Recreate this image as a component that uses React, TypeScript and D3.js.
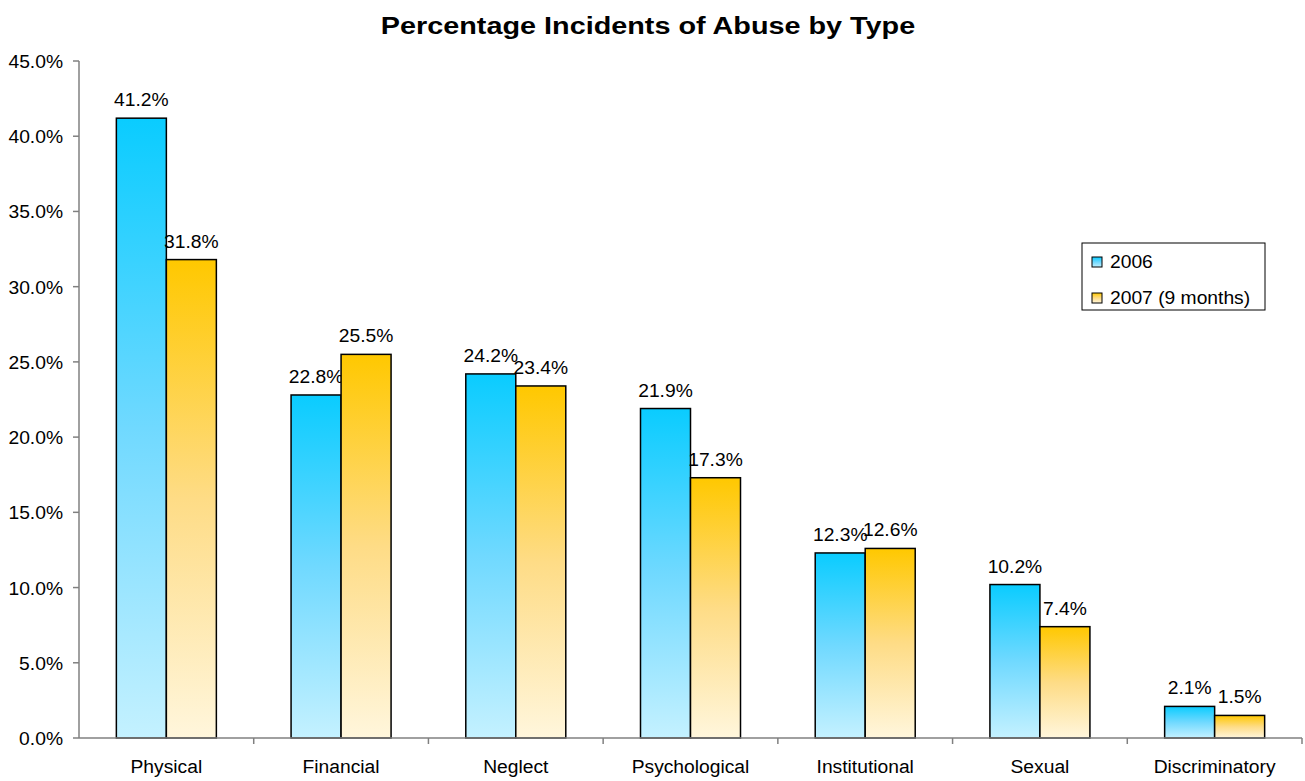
import React from "react";
import * as d3 from "d3";

const categories = ["Physical", "Financial", "Neglect", "Psychological", "Institutional", "Sexual", "Discriminatory"];
const values2006 = [41.2, 22.8, 24.2, 21.9, 12.3, 10.2, 2.1];
const values2007 = [31.8, 25.5, 23.4, 17.3, 12.6, 7.4, 1.5];
const seriesNames = ["2006", "2007 (9 months)"];
const yTicks = [0, 5, 10, 15, 20, 25, 30, 35, 40, 45];

const W = 1305, H = 781;
const left = 79, right = 1302, top = 61, bottom = 738;
const SX = 1.07;

function T({ x, y, anchor = "start", size = 18, sx = SX, bold = false, children }: any) {
  return (
    <text transform={`translate(${x},${y}) scale(${sx},1)`} textAnchor={anchor} fontSize={size} fontWeight={bold ? "bold" : "normal"} fill="#000">{children}</text>
  );
}

export default function App() {
  const x = d3.scaleBand<string>().domain(categories).range([left, right]).paddingInner(0).paddingOuter(0);
  const y = d3.scaleLinear().domain([0, 45]).range([bottom, top]);
  const bw = 50;
  const series = [values2006, values2007];
  const grads = ["gBlue", "gYellow"];
  const font = "Arial, 'Liberation Sans', sans-serif";
  return (
    <svg width={W} height={H} style={{ position: "absolute", left: 0, top: 0, background: "#fff" }} fontFamily={font}>
      <defs>
        <linearGradient id="gBlue" x1="0" y1="0" x2="0" y2="1">
          <stop offset="0" stopColor="#0ACCFF" />
          <stop offset="0.5" stopColor="#70D9FF" />
          <stop offset="1" stopColor="#C4F1FF" />
        </linearGradient>
        <linearGradient id="gYellow" x1="0" y1="0" x2="0" y2="1">
          <stop offset="0" stopColor="#FFC800" />
          <stop offset="0.5" stopColor="#FEDC86" />
          <stop offset="1" stopColor="#FFF6DC" />
        </linearGradient>
      </defs>
      <T x={648} y={34} anchor="middle" size={24} sx={1.2} bold>Percentage Incidents of Abuse by Type</T>
      {/* y axis */}
      <line x1={left} y1={top} x2={left} y2={bottom} stroke="#808080" strokeWidth={1.5} />
      {yTicks.map(t => (
        <g key={t}>
          <line x1={left - 6} x2={left} y1={y(t)} y2={y(t)} stroke="#808080" strokeWidth={1.5} />
          <T x={63} y={y(t) + 7} anchor="end">{t.toFixed(1)}%</T>
        </g>
      ))}
      {/* bars */}
      {categories.map((c, i) => {
        const cx = (x(c) as number) + x.bandwidth() / 2;
        return series.map((s, k) => {
          const bx = cx - bw + k * bw;
          return (
            <g key={c + k}>
              <rect x={bx} y={y(s[i])} width={bw} height={bottom - y(s[i])} fill={`url(#${grads[k]})`} stroke="#000" strokeWidth={1.5} />
              <T x={bx + bw / 2} y={y(s[i]) - 12} anchor="middle">{s[i].toFixed(1)}%</T>
            </g>
          );
        });
      })}
      {/* x axis */}
      <line x1={left} y1={bottom} x2={right} y2={bottom} stroke="#808080" strokeWidth={1.5} />
      {categories.map((c, i) => (
        <line key={"t" + i} x1={(x(c) as number) + x.bandwidth()} x2={(x(c) as number) + x.bandwidth()} y1={bottom} y2={bottom + 6} stroke="#808080" strokeWidth={1.5} />
      ))}
      {categories.map(c => (
        <T key={"l" + c} x={(x(c) as number) + x.bandwidth() / 2} y={773} anchor="middle">{c}</T>
      ))}
      {/* legend */}
      <rect x={1082} y={243} width={183} height={67} fill="#fff" stroke="#000" strokeWidth={1} />
      {seriesNames.map((n, k) => (
        <g key={n}>
          <rect x={1092} y={257 + k * 36} width={10} height={10} fill={`url(#${grads[k]})`} stroke="#000" strokeWidth={1} />
          <T x={1110} y={268 + k * 36}>{n}</T>
        </g>
      ))}
    </svg>
  );
}
